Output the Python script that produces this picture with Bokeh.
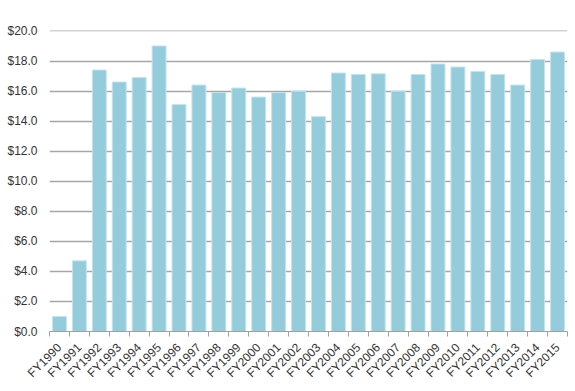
import math
from bokeh.plotting import figure
from bokeh.models import FixedTicker, NumeralTickFormatter, Range1d
from bokeh.embed import file_html
from bokeh.resources import INLINE

years = ["FY1990", "FY1991", "FY1992", "FY1993", "FY1994", "FY1995", "FY1996",
         "FY1997", "FY1998", "FY1999", "FY2000", "FY2001", "FY2002", "FY2003",
         "FY2004", "FY2005", "FY2006", "FY2007", "FY2008", "FY2009", "FY2010",
         "FY2011", "FY2012", "FY2013", "FY2014", "FY2015"]
values = [1.0, 4.7, 17.4, 16.6, 16.9, 19.0, 15.1, 16.4, 15.9, 16.2, 15.6, 15.9,
          16.0, 14.3, 17.2, 17.1, 17.15, 16.0, 17.1, 17.8, 17.6, 17.3, 17.1,
          16.4, 18.1, 18.6]
y_ticks = [0, 2, 4, 6, 8, 10, 12, 14, 16, 18, 20]

n = len(years)
xs = [i + 0.5 for i in range(n)]

p = figure(width=570, height=389, output_backend="svg", toolbar_location=None,
           x_range=Range1d(0, n), y_range=Range1d(0, 20.03),
           min_border_left=49, min_border_right=3, min_border_top=30,
           min_border_bottom=58)
p.outline_line_color = None
p.background_fill_color = "white"

p.vbar(x=xs, top=values, width=0.7, fill_color="#94ccdc",
       line_color="#c4e4ee", line_width=1)

font = "Liberation Sans"

# y axis
p.yaxis.ticker = FixedTicker(ticks=y_ticks)
p.yaxis.formatter = NumeralTickFormatter(format="$0.0")
p.yaxis.axis_line_color = None
p.yaxis.major_tick_line_color = None
p.yaxis.minor_tick_line_color = None
p.yaxis.major_label_standoff = 6
p.yaxis.major_label_text_font = font
p.yaxis.major_label_text_font_size = "12px"
p.yaxis.major_label_text_color = "#333333"

# x axis
p.xaxis.ticker = FixedTicker(ticks=xs, minor_ticks=list(range(n + 1)))
p.xaxis.major_label_overrides = {x: y for x, y in zip(xs, years)}
p.xaxis.major_label_orientation = math.pi / 4
p.xaxis.major_tick_out = 0
p.xaxis.major_tick_in = 0
p.xaxis.minor_tick_out = 5
p.xaxis.minor_tick_in = 0
p.xaxis.minor_tick_line_color = "#a0a0a0"
p.xaxis.axis_line_color = "#a0a0a0"
p.xaxis.axis_line_width = 1
p.xaxis.major_label_text_font = font
p.xaxis.major_label_text_font_size = "12px"
p.xaxis.major_label_text_color = "#333333"
p.xaxis.major_label_standoff = 9

p.xgrid.grid_line_color = None
p.ygrid.ticker = FixedTicker(ticks=y_ticks[1:])
p.ygrid.grid_line_color = "#a6a6a6"
p.ygrid.grid_line_width = 1.5

open("out.html", "w").write(file_html(p, INLINE))
